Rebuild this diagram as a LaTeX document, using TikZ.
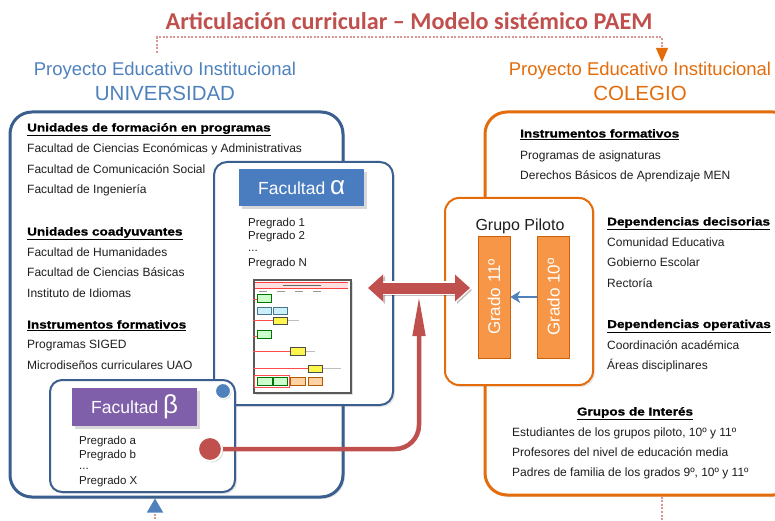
\documentclass[tikz,border=0pt]{standalone}
\usepackage{fontspec}
\setmainfont{Liberation Sans}
\newfontfamily\titlefont{Carlito}
\newfontfamily\headfont{Liberation Sans}[FakeStretch=1.19, BoldFeatures={FakeBold=1.2}]
\usetikzlibrary{arrows.meta,shadows,calc}
\definecolor{titred}{HTML}{C0504D}
\definecolor{pblue}{HTML}{4F81BD}
\definecolor{porange}{HTML}{E46C0A}
\definecolor{boxblue}{HTML}{3A5F8F}
\definecolor{alphablue}{HTML}{4A7CC0}
\definecolor{betapurple}{HTML}{7F5FA9}
\definecolor{gradeor}{HTML}{F79646}
\definecolor{dashpink}{HTML}{D99694}
\definecolor{arrred}{HTML}{C0504D}
\definecolor{txt}{HTML}{1E1E1E}
\tikzset{
  body/.style={anchor=base west, inner sep=0pt, text=txt, font=\fontsize{12}{14}\selectfont},
  heading/.style={anchor=base west, inner sep=0pt, text=black, font=\headfont\bfseries\fontsize{11.4}{14}\selectfont},
  preg/.style={anchor=base west, inner sep=0pt, text=txt, font=\fontsize{11.5}{13}\selectfont},
  bigbox/.style={draw, line width=3pt, rounded corners=22pt, fill=white,
     drop shadow={opacity=0.18, shadow xshift=2pt, shadow yshift=-2pt}},
  innerbox/.style={draw, line width=2pt, rounded corners=13pt, fill=white,
     drop shadow={opacity=0.18, shadow xshift=2pt, shadow yshift=-2pt}},
  facheader/.style={text=white, inner sep=0pt, anchor=north west,
     drop shadow={opacity=0.3, shadow xshift=3pt, shadow yshift=-3pt}},
  gradebox/.style={fill=gradeor, draw=porange!90!black, line width=0.6pt,
     minimum width=32pt, minimum height=122pt, inner sep=0pt, text=white,
     font=\fontsize{17}{20}\selectfont},
  dashline/.style={dashpink, line width=1.2pt, dash pattern=on 2pt off 1.6pt},
  tb/.style={line width=0.5pt},
}
\begin{document}
\begin{tikzpicture}[x=1pt,y=-1pt]
\useasboundingbox (0,0) rectangle (775,521);
\fill[white] (0,0) rectangle (775,521);

% ---------- titles ----------
\node[text=titred, font=\titlefont\bfseries\fontsize{24.2}{27}\selectfont] (title) at (409,21)
  {Articulación curricular – Modelo sistémico PAEM};
\node[text=pblue, font=\fontsize{18.5}{20}\selectfont] (pu) at (165,71) {Proyecto Educativo Institucional};
\node[text=pblue, font=\fontsize{20.5}{22}\selectfont] (univ) at (165,93) {UNIVERSIDAD};
\node[text=porange, font=\fontsize{18.5}{20}\selectfont] (pc) at (640,71) {Proyecto Educativo Institucional};
\node[text=porange, font=\fontsize{20.5}{22}\selectfont] (coleg) at (640,93) {COLEGIO};

\coordinate (dA) at (157,53);
\coordinate (dM) at (157,37);
\coordinate (dB) at (662,62);
\draw[dashline, -{Triangle[length=14pt, width=12pt, color=porange, fill=porange]}] (dA) -- (dM) -| (dB);

% ---------- big boxes ----------
\node[bigbox, draw=boxblue, minimum width=333pt, minimum height=385pt] (leftbox) at (176.5,304.5) {};
\node[bigbox, draw=porange, minimum width=310pt, minimum height=383pt] (rightbox) at (640,303.5) {};

% bottom connectors
\coordinate (bl) at (155,530);
\draw[dashline, -{Triangle[length=14pt, width=16pt, color=pblue, fill=pblue]}] (bl) -- (bl |- leftbox.south);
\coordinate (br) at (662,530);
\draw[dashline] (br |- rightbox.south) -- (br);

% ---------- left texts ----------
\node[heading] (h1) at (27,131.5) {\underline{Unidades de formación en programas}};
\node[body] (u1) at (27,152.5) {Facultad de Ciencias Económicas y Administrativas};
\node[body] (u2) at (27,173.5) {Facultad de Comunicación Social};
\node[body] (u3) at (27,193.5) {Facultad de Ingeniería};
\node[heading] (h2) at (27,235.5) {\underline{Unidades coadyuvantes}};
\node[body] (c1) at (27,256.5) {Facultad de Humanidades};
\node[body] (c2) at (27,276.5) {Facultad de Ciencias Básicas};
\node[body] (c3) at (27,297.5) {Instituto de Idiomas};
\node[heading] (h3) at (27,328.5) {\underline{Instrumentos formativos}};
\node[body] (i1) at (27,348.5) {Programas SIGED};
\node[body] (i2) at (27,369.5) {Microdiseños curriculares UAO};

% ---------- Facultad alpha ----------
\node[innerbox, draw=boxblue, minimum width=179pt, minimum height=243pt] (alphabox) at (303.5,283.5) {};
\node[facheader, fill=alphablue, minimum width=125pt, minimum height=37pt] (ha) at (239,169)
  {\fontsize{17.5}{20}\selectfont Facultad \fontsize{26}{26}\selectfont α};
\node[preg] (a1) at (248,226) {Pregrado 1};
\node[preg] (a2) at (248,239.5) {Pregrado 2};
\node[preg] (a3) at (248,251) {...};
\node[preg] (a4) at (248,266) {Pregrado N};

% thumbnail
\node[draw=black!65, line width=1.5pt, fill=white, minimum width=97pt, minimum height=113pt,
      anchor=north west, inner sep=0pt,
      drop shadow={opacity=0.25, shadow xshift=2pt, shadow yshift=-2pt}] (thumb) at (253,279) {};
\begin{scope}[shift={(253,279)}]
  \fill[red!12] (2,3) rectangle (95,9);
  \draw[red!75, line width=0.8pt] (2,3) -- (95,3);
  \draw[red!75, line width=0.8pt] (2,9) -- (95,9);
  \draw[black!60, line width=0.6pt] (30,6) -- (68,6);
  \foreach \cx in {6,24,42,60} \draw[black!40, line width=0.6pt] (\cx,12.5) -- (\cx+8,12.5);
  \draw[red!70, line width=0.8pt] (0,20) -- (4,20);
  \draw[red!70, line width=0.8pt] (0,41) -- (20,41);
  \draw[red!70, line width=0.8pt] (0,57) -- (4,57);
  \draw[red!70, line width=0.8pt] (0,72) -- (37,72);
  \draw[red!70, line width=0.8pt] (0,89) -- (55,89);
  \draw[black!25, line width=0.5pt] (34,41) -- (46,41) (52,72) -- (62,72) (69,89) -- (88,89);
  \draw[red!70, line width=0.8pt] (1,96) rectangle (36,108);
  \draw[tb, draw=green!45!black, fill=green!20] (4,15) rectangle (18,23);
  \draw[tb, draw=cyan!50!black, fill=cyan!20] (4,28) rectangle (18,35);
  \draw[tb, draw=cyan!50!black, fill=cyan!20] (20,28) rectangle (34,35);
  \draw[tb, draw=black!70, fill=yellow!70] (20,38) rectangle (34,45);
  \draw[tb, draw=green!45!black, fill=green!20] (4,51) rectangle (18,59);
  \draw[tb, draw=black!70, fill=yellow!70] (37,68) rectangle (52,76);
  \draw[tb, draw=black!70, fill=yellow!70] (55,86) rectangle (69,93);
  \draw[tb, draw=green!45!black, fill=green!20] (4,98) rectangle (19,106);
  \draw[tb, draw=green!45!black, fill=green!20] (20,98) rectangle (34,106);
  \draw[tb, draw=orange!70!black, fill=orange!35] (37,98) rectangle (52,106);
  \draw[tb, draw=orange!70!black, fill=orange!35] (55,98) rectangle (69,106);
\end{scope}

% ---------- Facultad beta ----------
\node[innerbox, draw=boxblue, rounded corners=12pt, minimum width=185pt, minimum height=112pt] (betabox) at (142.5,436) {};
\node[facheader, fill=betapurple, minimum width=125pt, minimum height=38pt] (hb) at (72,388)
  {\fontsize{17.5}{20}\selectfont Facultad \fontsize{26}{26}\selectfont β};
\node[preg] (b1) at (79,444) {Pregrado a};
\node[preg] (b2) at (79,458) {Pregrado b};
\node[preg] (b3) at (79,469) {...};
\node[preg] (b4) at (79,484.5) {Pregrado X};
\node[circle, fill=pblue, draw=white, line width=1pt, minimum size=15pt, inner sep=0pt,
      drop shadow={opacity=0.3, shadow xshift=1pt, shadow yshift=-1pt}] (bdot) at (223,391) {};

% ---------- Grupo piloto ----------
\node[innerbox, draw=porange, rounded corners=14pt, minimum width=148pt, minimum height=187pt] (piloto) at (519,291.5) {};
\node[font=\fontsize{16}{18}\selectfont, text=txt] (gp) at (520,226) {Grupo Piloto};
\node[gradebox] (g11) at (494,297) {\rotatebox{90}{Grado 11º}};
\node[gradebox] (g10) at (553.5,297) {\rotatebox{90}{Grado 10º}};
\draw[pblue, line width=1.8pt, -{Stealth[length=10pt, width=12pt, inset=3pt]}] (g10.west) -- (g11.east);

% ---------- right texts ----------
\node[heading] (r1) at (520,137.5) {\underline{Instrumentos formativos}};
\node[body] (r2) at (520,159.5) {Programas de asignaturas};
\node[body] (r3) at (520,179.5) {Derechos Básicos de Aprendizaje MEN};
\node[heading] (r4) at (607,225.5) {\underline{Dependencias decisorias}};
\node[body] (r5) at (607,246) {Comunidad Educativa};
\node[body] (r6) at (607,266.5) {Gobierno Escolar};
\node[body] (r7) at (607,287) {Rectoría};
\node[heading] (r8) at (607,328) {\underline{Dependencias operativas}};
\node[body] (r9) at (607,349) {Coordinación académica};
\node[body] (r10) at (607,369.5) {Áreas disciplinares};
\node[heading, anchor=base] (r11) at (635,415.5) {\underline{Grupos de Interés}};
\node[body] (r12) at (512,436.5) {Estudiantes de los grupos piloto, 10º y 11º};
\node[body] (r13) at (512,456.5) {Profesores del nivel de educación media};
\node[body] (r14) at (512,476.5) {Padres de familia de los grados 9º, 10º y 11º};

% ---------- red arrows ----------
\coordinate (dl) at (368,288);
\coordinate (dr) at (470,288);
\coordinate (dbot) at (419,296);
\coordinate (rd) at (210,449);
\draw[black, opacity=0.25, line width=12pt, {Triangle[length=15pt,width=27pt]}-{Triangle[length=15pt,width=27pt]}]
  ($(dl)+(2,2)$) -- ($(dr)+(2,2)$);
\draw[white, line width=13.5pt, {Triangle[length=17pt,width=30pt]}-{Triangle[length=17pt,width=30pt]}]
  ($(dl)+(-2,0)$) -- ($(dr)+(2,0)$);
\draw[arrred, line width=11pt, {Triangle[length=15pt,width=26pt]}-{Triangle[length=15pt,width=26pt]}]
  (dl) -- (dr);
\draw[arrred, line width=4.5pt, rounded corners=24pt, -{Triangle[length=40pt, width=12pt]}]
  (rd) -| (dbot);
\node[circle, fill=arrred, draw=white, line width=2pt, minimum size=24pt, inner sep=0pt,
      drop shadow={opacity=0.3, shadow xshift=1.5pt, shadow yshift=-1.5pt}] (reddot) at (rd) {};
\end{tikzpicture}
\end{document}
